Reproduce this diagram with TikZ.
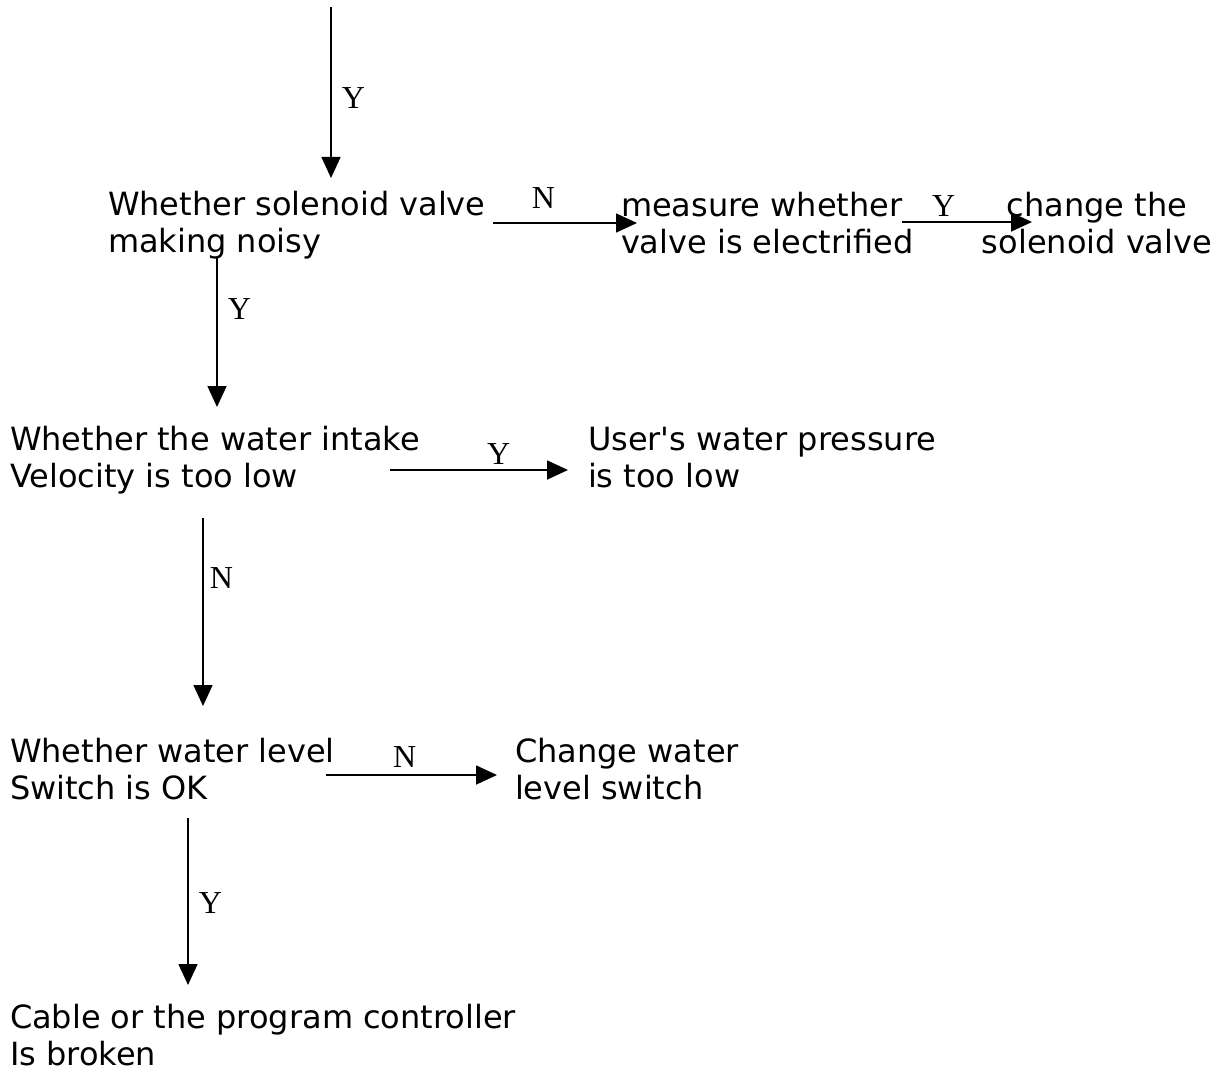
\documentclass[tikz,border=0pt]{standalone}
\usepackage{fontspec}
\setmainfont{DejaVu Sans}
\newfontfamily\lblfamily{Liberation Serif}
\usetikzlibrary{arrows.meta,calc}
\tikzset{
  box/.style={inner sep=0pt, outer sep=0pt, anchor=base west, align=left,
    font=\fontsize{32pt}{37pt}\selectfont},
  cbox/.style={box, anchor=base, align=center},
  arr/.style={line width=1.7pt, -{Triangle[length=21pt,width=19pt]}},
  lbl/.style={inner sep=0pt, font=\lblfamily\fontsize{32pt}{32pt}\selectfont}
}
\begin{document}
\begin{tikzpicture}[x=1pt,y=-1pt]
\useasboundingbox (0,0) rectangle (1230,1078);
% base anchors are at the baseline of the second (last) line
\node[box] (n1) at (108,252) {Whether solenoid valve\\making noisy};
\node[box] (n2) at (621,253) {measure whether\\valve is electrified};
\node[cbox] (n3) at (1097,253) {change the\\solenoid valve};
\node[box] (n4) at (10,487) {Whether the water intake\\Velocity is too low};
\node[box] (n5) at (588,487) {User\textquotesingle s water pressure\\is too low};
\node[box] (n6) at (10,799) {Whether water level\\Switch is OK};
\node[box] (n7) at (515,799) {Change water\\level switch};
\node[box] (n8) at (10,1065) {Cable or the program controller\\Is broken};
\coordinate (top) at (331,7);

\draw[arr] (top) -- ($(n1.base west)+(223,-74)$)
  node[lbl, pos=0.53, anchor=west, xshift=10pt] (l0) {Y};
\draw[arr] ($(n1.base west)+(385,-29)$) -- ($(n2.base west)+(16,-30)$)
  node[lbl, pos=0.35, anchor=south, yshift=14pt] (l1) {N};
\draw[arr] ($(n2.base west)+(281,-31)$) -- ($(n3.base)+(-65,-31)$)
  node[lbl, pos=0.32, anchor=south, yshift=5pt] (l2) {Y};
\draw[arr] ($(n1.base west)+(109,6)$) -- ($(n4.base west)+(207,-80)$)
  node[lbl, pos=0.34, anchor=west, xshift=10pt] (l3) {Y};
\draw[arr] ($(n4.base west)+(380,-17)$) -- ($(n5.base west)+(-20,-17)$)
  node[lbl, pos=0.61, anchor=south, yshift=5pt] (l4) {Y};
\draw[arr] ($(n4.base west)+(193,31)$) -- ($(n6.base west)+(193,-93)$)
  node[lbl, pos=0.32, anchor=west, xshift=6pt] (l5) {N};
\draw[arr] ($(n6.base west)+(316,-24)$) -- ($(n7.base west)+(-18,-24)$)
  node[lbl, pos=0.46, anchor=south, yshift=7pt] (l6) {N};
\draw[arr] ($(n6.base west)+(178,19)$) -- ($(n8.base west)+(178,-80)$)
  node[lbl, pos=0.51, anchor=west, xshift=10pt] (l7) {Y};
\end{tikzpicture}
\end{document}
